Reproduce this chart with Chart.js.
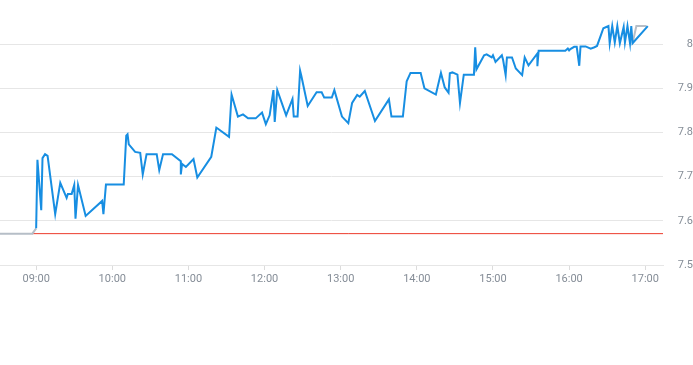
<!DOCTYPE html>
<html>
<head>
<meta charset="utf-8">
<script src="https://cdn.jsdelivr.net/npm/chart.js@4.4.0/dist/chart.umd.min.js"></script>
<style>
  html, body { margin: 0; padding: 0; background: #fff; }
  #wrap { width: 693px; height: 300px; }
</style>
</head>
<body>
<div id="wrap"><canvas id="chart" width="693" height="300"></canvas></div>
<script>
// hour ticks on the time axis
const hourTicks = ['09:00', '10:00', '11:00', '12:00', '13:00', '14:00', '15:00', '16:00', '17:00'];

// intraday price (blue)
const priceTimes = [
  '09:00', '09:01', '09:04', '09:05', '09:07', '09:09', '09:15', '09:19', '09:24', '09:25',
  '09:28', '09:30', '09:31', '09:33', '09:39', '09:52', '09:53', '09:55', '10:09', '10:11',
  '10:12', '10:13', '10:18', '10:22', '10:24', '10:27', '10:35', '10:37', '10:40', '10:47',
  '10:54', '10:54', '10:55', '10:58', '11:04', '11:07', '11:18', '11:22', '11:23', '11:32',
  '11:34', '11:39', '11:43', '11:47', '11:53', '11:58', '12:01', '12:04', '12:07', '12:08',
  '12:10', '12:17', '12:22', '12:23', '12:26', '12:28', '12:29', '12:34', '12:41', '12:45',
  '12:47', '12:53', '12:55', '13:01', '13:06', '13:09', '13:13', '13:15', '13:19', '13:27',
  '13:38', '13:40', '13:49', '13:52', '13:55', '14:03', '14:06', '14:15', '14:19', '14:22',
  '14:25', '14:26', '14:28', '14:32', '14:34', '14:37', '14:45', '14:46', '14:47', '14:53',
  '14:55', '14:59', '15:00', '15:02', '15:07', '15:08', '15:10', '15:11', '15:15', '15:18',
  '15:23', '15:25', '15:28', '15:35', '15:35', '15:36', '15:57', '15:59', '16:00', '16:01',
  '16:04', '16:06', '16:08', '16:09', '16:13', '16:17', '16:20', '16:22', '16:25', '16:27',
  '16:31', '16:32', '16:34', '16:36', '16:38', '16:40', '16:43', '16:44', '16:46', '16:48',
  '16:49', '16:50', '17:02'
];
const prices = [
  7.583, 7.738, 7.624, 7.742, 7.751, 7.747, 7.615, 7.686, 7.652, 7.661,
  7.661, 7.681, 7.605, 7.681, 7.611, 7.645, 7.615, 7.682, 7.682, 7.793,
  7.796, 7.773, 7.756, 7.754, 7.705, 7.751, 7.751, 7.715, 7.751, 7.751,
  7.735, 7.705, 7.729, 7.722, 7.740, 7.698, 7.745, 7.811, 7.809, 7.790,
  7.886, 7.836, 7.841, 7.832, 7.832, 7.845, 7.819, 7.839, 7.896, 7.824,
  7.896, 7.839, 7.876, 7.836, 7.836, 7.940, 7.928, 7.860, 7.891, 7.891,
  7.879, 7.879, 7.896, 7.836, 7.821, 7.867, 7.885, 7.881, 7.894, 7.826,
  7.875, 7.836, 7.836, 7.916, 7.935, 7.935, 7.900, 7.886, 7.935, 7.902,
  7.890, 7.934, 7.936, 7.931, 7.867, 7.931, 7.931, 7.993, 7.943, 7.975,
  7.977, 7.970, 7.975, 7.960, 7.975, 7.964, 7.930, 7.970, 7.970, 7.945,
  7.930, 7.970, 7.952, 7.979, 7.950, 7.985, 7.985, 7.990, 7.986, 7.989,
  7.994, 7.994, 7.951, 7.995, 7.995, 7.990, 7.993, 7.996, 8.020, 8.036,
  8.041, 8.002, 8.041, 8.004, 8.041, 8.002, 8.039, 8.004, 8.041, 8.002,
  8.041, 8.002, 8.041
];

// extended-hours price (grey), null breaks the line
const extTimes = ['08:30', '08:57', '09:00', '09:01', '16:50', '16:53', '17:01'];
const extPrices = [7.571, 7.571, 7.583, null, 8.002, 8.041, 8.041];

// previous close (red)
const prevClose = 7.571;
const prevCloseTimes = ['08:57', '17:15'];

function toMin(s) {
  return parseInt(s.slice(0, 2), 10) * 60 + parseInt(s.slice(3), 10);
}
function toLabel(m) {
  const h = Math.floor(m / 60), mm = Math.round(m % 60);
  return String(h).padStart(2, '0') + ':' + String(mm).padStart(2, '0');
}

const tickColor = '#858d97';
const gridColor = '#e6e6e6';
const font = { family: 'Roboto', size: 11 };

new Chart(document.getElementById('chart').getContext('2d'), {
  type: 'line',
  data: {
    datasets: [
      {
        data: priceTimes.map((t, i) => ({ x: toMin(t), y: prices[i] })),
        borderColor: '#178ee2',
        borderWidth: 2,
        order: 0
      },
      {
        data: extTimes.map((t, i) => ({ x: toMin(t), y: extPrices[i] })),
        borderColor: '#b6bec7',
        borderWidth: 2,
        order: 1
      },
      {
        data: prevCloseTimes.map((t) => ({ x: toMin(t), y: prevClose })),
        borderColor: '#ec3b2c',
        borderWidth: 1,
        order: 2
      }
    ]
  },
  options: {
    responsive: false,
    animation: false,
    parsing: false,
    layout: { padding: 0 },
    elements: {
      point: { radius: 0 },
      line: { tension: 0, fill: false }
    },
    plugins: {
      legend: { display: false },
      tooltip: { enabled: false }
    },
    scales: {
      x: {
        type: 'linear',
        min: 511.5,
        max: 1034,
        afterBuildTicks: (axis) => {
          axis.ticks = hourTicks.map((t) => ({ value: toMin(t) }));
        },
        afterFit: (axis) => { axis.height = 35; },
        grid: {
          drawOnChartArea: false,
          drawTicks: true,
          tickLength: 5,
          color: '#dcdcdc'
        },
        border: { display: true, color: gridColor },
        ticks: {
          color: tickColor,
          font: font,
          padding: 3,
          maxRotation: 0,
          autoSkip: false,
          callback: (v) => toLabel(v)
        }
      },
      y: {
        position: 'right',
        min: 7.5,
        max: 8.1,
        afterFit: (axis) => {
          axis.width = 30;
          axis.paddingTop = 0;
          axis.paddingBottom = 0;
        },
        grid: {
          drawTicks: false,
          color: (ctx) => (ctx.tick && ctx.tick.value > 8.05 ? 'rgba(0,0,0,0)' : gridColor)
        },
        border: { display: false },
        ticks: {
          stepSize: 0.1,
          color: tickColor,
          font: font,
          padding: 14,
          crossAlign: 'far',
          callback: (v) => (v > 8.05 ? '' : String(Math.round(v * 10) / 10))
        }
      }
    }
  }
});
</script>
</body>
</html>
